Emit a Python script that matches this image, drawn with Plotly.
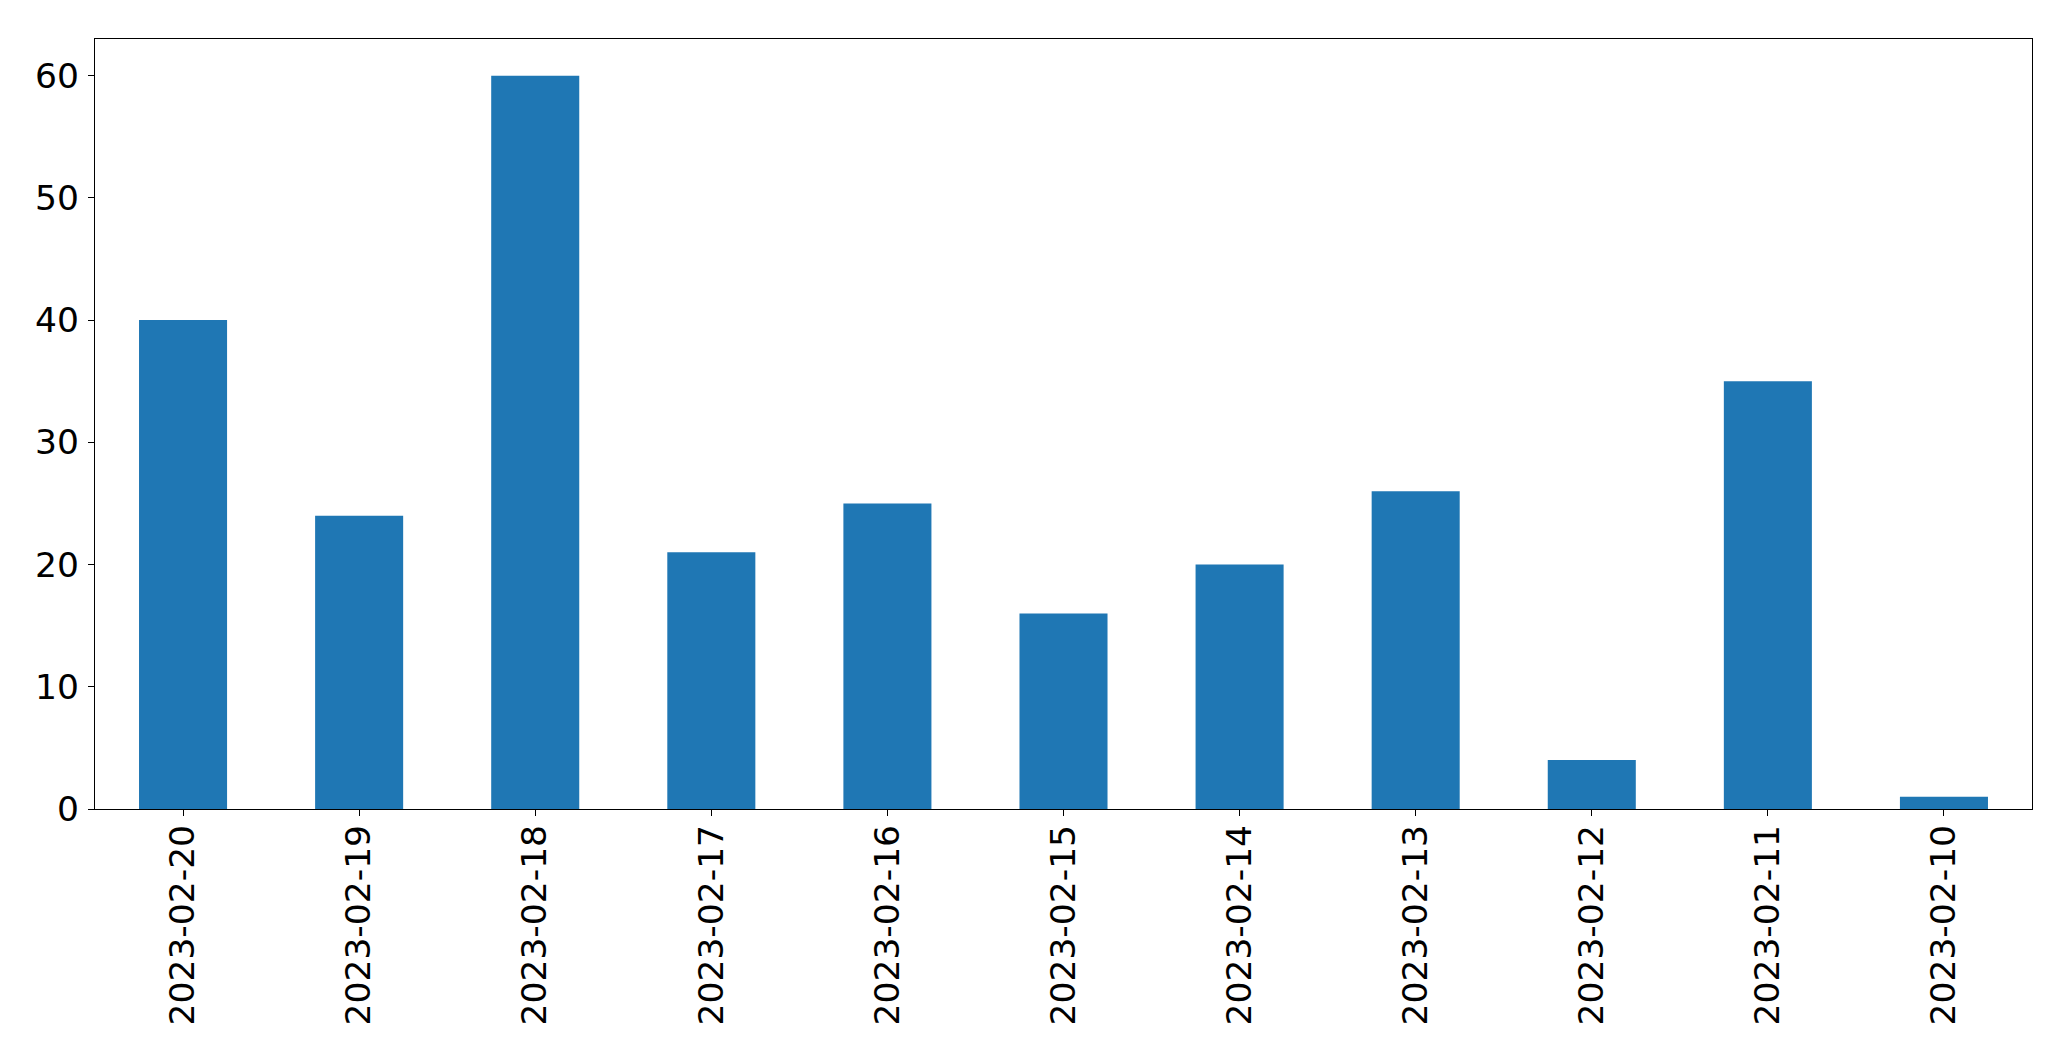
import plotly.graph_objects as go

dates = ["2023-02-20", "2023-02-19", "2023-02-18", "2023-02-17", "2023-02-16",
         "2023-02-15", "2023-02-14", "2023-02-13", "2023-02-12", "2023-02-11", "2023-02-10"]
counts = [40, 24, 60, 21, 25, 16, 20, 26, 4, 35, 1]

fig = go.Figure(go.Bar(x=dates, y=counts, width=0.5, marker_color="#1f77b4",
                       marker_line_width=0))

# page body has an 8px default margin, so the figure is offset by 8px
fig.update_layout(
    width=2063, height=1053,
    margin=dict(l=87, r=39, t=31, b=252, autoexpand=False),
    plot_bgcolor="white", paper_bgcolor="white",
    font=dict(family="DejaVu Sans", size=34.5, color="black"),
    showlegend=False,
)
fig.update_xaxes(type="category", range=[-0.5, 10.5], tickangle=-90, automargin=False,
                 showline=True, linecolor="black", linewidth=1.3, mirror=True,
                 ticks="outside", ticklen=6, tickwidth=1.3, tickcolor="black",
                 showgrid=False, zeroline=False, ticklabelstandoff=-5)
fig.update_yaxes(range=[0, 63], tickvals=[0, 10, 20, 30, 40, 50, 60], automargin=False,
                 showline=True, linecolor="black", linewidth=1.3, mirror=True,
                 ticks="outside", ticklen=6, tickwidth=1.3, tickcolor="black",
                 showgrid=False, zeroline=False, ticklabelstandoff=2)

fig.write_html("out.html")
